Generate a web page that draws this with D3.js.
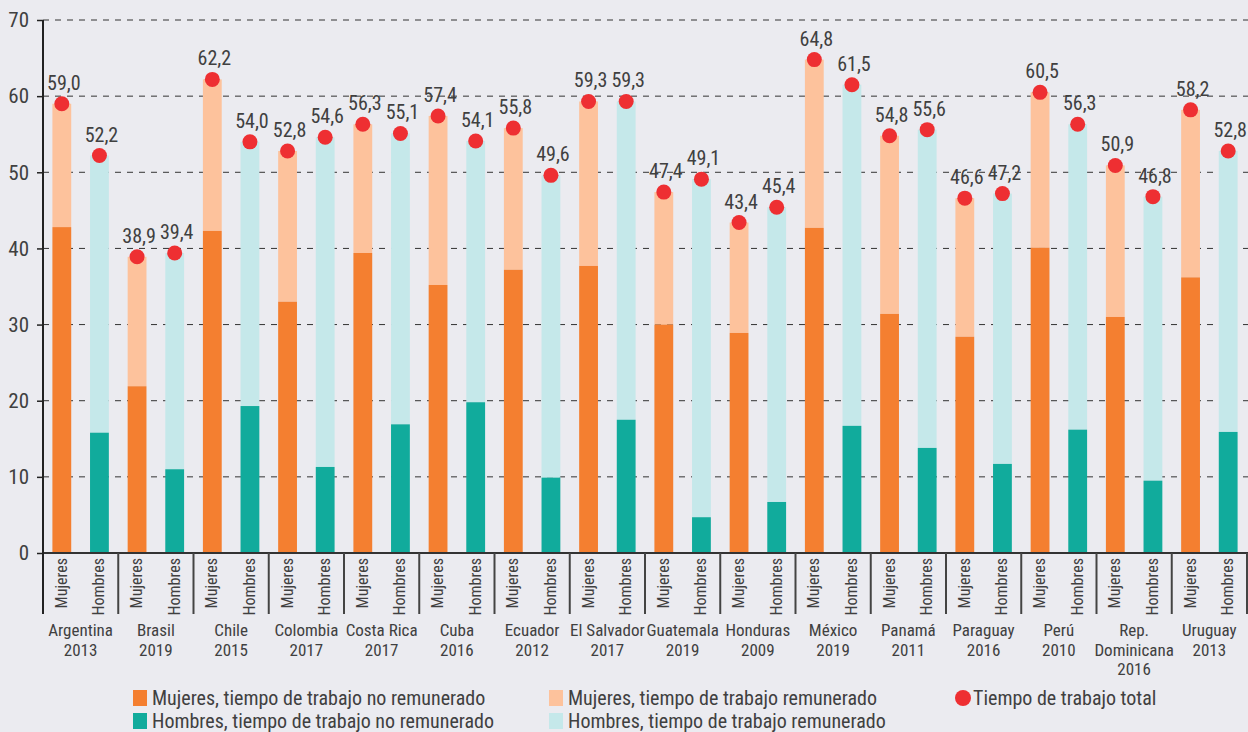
<!DOCTYPE html>
<html>
<head>
<meta charset="utf-8">
<script src="https://cdn.jsdelivr.net/npm/d3@7"></script>
<style>
  html, body { margin: 0; padding: 0; background: #ebebf0; }
  svg { display: block; }
  text { font-family: "Liberation Sans Narrow", "Roboto Condensed", "DejaVu Sans Condensed", sans-serif; fill: #404040; }
</style>
</head>
<body>
<div id="chart"></div>
<script>
// country labels (one entry per line) for each group
const countries = [
  ["Argentina", "2013"], ["Brasil", "2019"], ["Chile", "2015"], ["Colombia", "2017"],
  ["Costa Rica", "2017"], ["Cuba", "2016"], ["Ecuador", "2012"], ["El Salvador", "2017"],
  ["Guatemala", "2019"], ["Honduras", "2009"], ["México", "2019"], ["Panamá", "2011"],
  ["Paraguay", "2016"], ["Perú", "2010"], ["Rep.", "Dominicana", "2016"], ["Uruguay", "2013"]
];
const sexes = ["Mujeres", "Hombres"];

// total work time (hours / week)
const mujeresTotal = [59.0, 38.9, 62.2, 52.8, 56.3, 57.4, 55.8, 59.3, 47.4, 43.4, 64.8, 54.8, 46.6, 60.5, 50.9, 58.2];
const hombresTotal = [52.2, 39.4, 54.0, 54.6, 55.1, 54.1, 49.6, 59.3, 49.1, 45.4, 61.5, 55.6, 47.2, 56.3, 46.8, 52.8];
// unpaid work time
const mujeresNoRem = [42.8, 21.9, 42.3, 33.0, 39.4, 35.2, 37.2, 37.7, 30.0, 28.9, 42.7, 31.4, 28.4, 40.1, 31.0, 36.2];
const hombresNoRem = [15.8, 11.0, 19.3, 11.3, 16.9, 19.8, 9.9, 17.5, 4.7, 6.7, 16.7, 13.8, 11.7, 16.2, 9.5, 15.9];

const yTicks = [0, 10, 20, 30, 40, 50, 60, 70];

const legendItems = [
  { label: "Mujeres, tiempo de trabajo no remunerado", color: "#f47f30", type: "rect" },
  { label: "Mujeres, tiempo de trabajo remunerado", color: "#fdc29c", type: "rect" },
  { label: "Tiempo de trabajo total", color: "#ee2f32", type: "dot" },
  { label: "Hombres, tiempo de trabajo no remunerado", color: "#11ab9c", type: "rect" },
  { label: "Hombres, tiempo de trabajo remunerado", color: "#c5e8ea", type: "rect" }
];

const colors = {
  Mujeres: { noRem: "#f47f30", rem: "#fdc29c" },
  Hombres: { noRem: "#11ab9c", rem: "#c5e8ea" },
  dot: "#ee2f32"
};

const width = 1248;
const height = 732;
const marginLeft = 43;
const marginRight = 1;
const marginTop = 20;
const plotBottom = 553;
const axisBottom = 614;

const rows = countries.map((c, i) => ({
  key: c.join(" "),
  lines: c,
  bars: [
    { sex: "Mujeres", total: mujeresTotal[i], noRem: mujeresNoRem[i] },
    { sex: "Hombres", total: hombresTotal[i], noRem: hombresNoRem[i] }
  ]
}));

const x0 = d3.scaleBand()
  .domain(rows.map(d => d.key))
  .range([marginLeft, width - marginRight])
  .padding(0);

const x1 = d3.scaleBand()
  .domain(sexes)
  .range([0, x0.bandwidth()])
  .paddingInner(0.5)
  .paddingOuter(0.25);

const y = d3.scaleLinear()
  .domain([0, 70])
  .range([plotBottom, marginTop]);

const svg = d3.create("svg")
  .attr("width", width)
  .attr("height", height)
  .attr("viewBox", [0, 0, width, height]);

svg.append("rect")
  .attr("width", width)
  .attr("height", height)
  .attr("fill", "#ebebf0");

// dashed grid lines
svg.append("g")
  .selectAll("line")
  .data(yTicks.filter(t => t > 0))
  .join("line")
    .attr("x1", marginLeft)
    .attr("x2", width)
    .attr("y1", d => y(d))
    .attr("y2", d => y(d))
    .attr("stroke", "#333")
    .attr("stroke-width", 1)
    .attr("stroke-dasharray", "6,6");

// y axis
svg.append("g")
  .attr("transform", `translate(${marginLeft},0)`)
  .call(d3.axisLeft(y).tickValues(yTicks).tickSize(6).tickPadding(8).tickFormat(d3.format("d")))
  .call(g => g.select(".domain").remove())
  .call(g => g.selectAll(".tick line").attr("stroke", "#222").attr("stroke-width", 1.5))
  .call(g => g.selectAll(".tick text")
    .attr("font-size", 21)
    .attr("fill", "#404040")
    .style("font-family", null));

const groups = svg.append("g")
  .selectAll("g")
  .data(rows)
  .join("g")
    .attr("transform", d => `translate(${x0(d.key)},0)`);

// paid part (light) stacked on unpaid part
groups.selectAll(".rem")
  .data(d => d.bars)
  .join("rect")
    .attr("class", "rem")
    .attr("x", d => x1(d.sex))
    .attr("width", x1.bandwidth())
    .attr("y", d => y(d.total))
    .attr("height", d => y(d.noRem) - y(d.total))
    .attr("fill", d => colors[d.sex].rem);

groups.selectAll(".norem")
  .data(d => d.bars)
  .join("rect")
    .attr("class", "norem")
    .attr("x", d => x1(d.sex))
    .attr("width", x1.bandwidth())
    .attr("y", d => y(d.noRem))
    .attr("height", d => y(0) - y(d.noRem))
    .attr("fill", d => colors[d.sex].noRem);

// total dots + labels
groups.selectAll("circle")
  .data(d => d.bars)
  .join("circle")
    .attr("cx", d => x1(d.sex) + x1.bandwidth() / 2)
    .attr("cy", d => y(d.total))
    .attr("r", 7.5)
    .attr("fill", colors.dot);

groups.selectAll(".val")
  .data(d => d.bars)
  .join("text")
    .attr("class", "val")
    .attr("x", d => x1(d.sex) + x1.bandwidth() / 2 + 2)
    .attr("y", d => y(d.total) - 14)
    .attr("text-anchor", "middle")
    .attr("font-size", 20)
    .text(d => d3.format(".1f")(d.total).replace(".", ","));

// sex labels, rotated
groups.selectAll(".sex")
  .data(d => d.bars)
  .join("text")
    .attr("class", "sex")
    .attr("transform", d => `translate(${x1(d.sex) + x1.bandwidth() / 2 + 5},${plotBottom + 5}) rotate(-90)`)
    .attr("text-anchor", "end")
    .attr("font-size", 16)
    .text(d => d.sex);

// country labels
groups.append("text")
  .attr("x", x0.bandwidth() / 2)
  .attr("text-anchor", "middle")
  .attr("font-size", 17)
  .selectAll("tspan")
  .data(d => d.lines)
  .join("tspan")
    .attr("x", x0.bandwidth() / 2)
    .attr("y", (d, i) => 636 + i * 19.5)
    .text(d => d);

// category axis: baseline, separators
svg.append("line")
  .attr("x1", marginLeft)
  .attr("x2", width)
  .attr("y1", plotBottom)
  .attr("y2", plotBottom)
  .attr("stroke", "#333")
  .attr("stroke-width", 2);

svg.append("g")
  .selectAll("line")
  .data(rows.map(d => x0(d.key)).concat([x0.range()[1]]))
  .join("line")
    .attr("x1", d => d)
    .attr("x2", d => d)
    .attr("y1", plotBottom)
    .attr("y2", axisBottom)
    .attr("stroke", "#444")
    .attr("stroke-width", 2);

// y axis line
svg.append("line")
  .attr("x1", marginLeft)
  .attr("x2", marginLeft)
  .attr("y1", marginTop)
  .attr("y2", axisBottom)
  .attr("stroke", "#222")
  .attr("stroke-width", 2);

// legend
const legendPos = [[133, 698], [549, 698], [956, 698], [133, 721], [549, 721]];
const legend = svg.append("g")
  .selectAll("g")
  .data(legendItems)
  .join("g")
    .attr("transform", (d, i) => `translate(${legendPos[i][0]},${legendPos[i][1]})`);

legend.filter(d => d.type === "rect")
  .append("rect")
    .attr("x", 0)
    .attr("y", -8)
    .attr("width", 14)
    .attr("height", 16)
    .attr("fill", d => d.color);

legend.filter(d => d.type === "dot")
  .append("circle")
    .attr("cx", 7)
    .attr("cy", 0)
    .attr("r", 8)
    .attr("fill", d => d.color);

legend.append("text")
  .attr("x", d => d.type === "dot" ? 17 : 19)
  .attr("y", 7)
  .attr("font-size", 20)
  .text(d => d.label);

document.getElementById("chart").appendChild(svg.node());
</script>
</body>
</html>
